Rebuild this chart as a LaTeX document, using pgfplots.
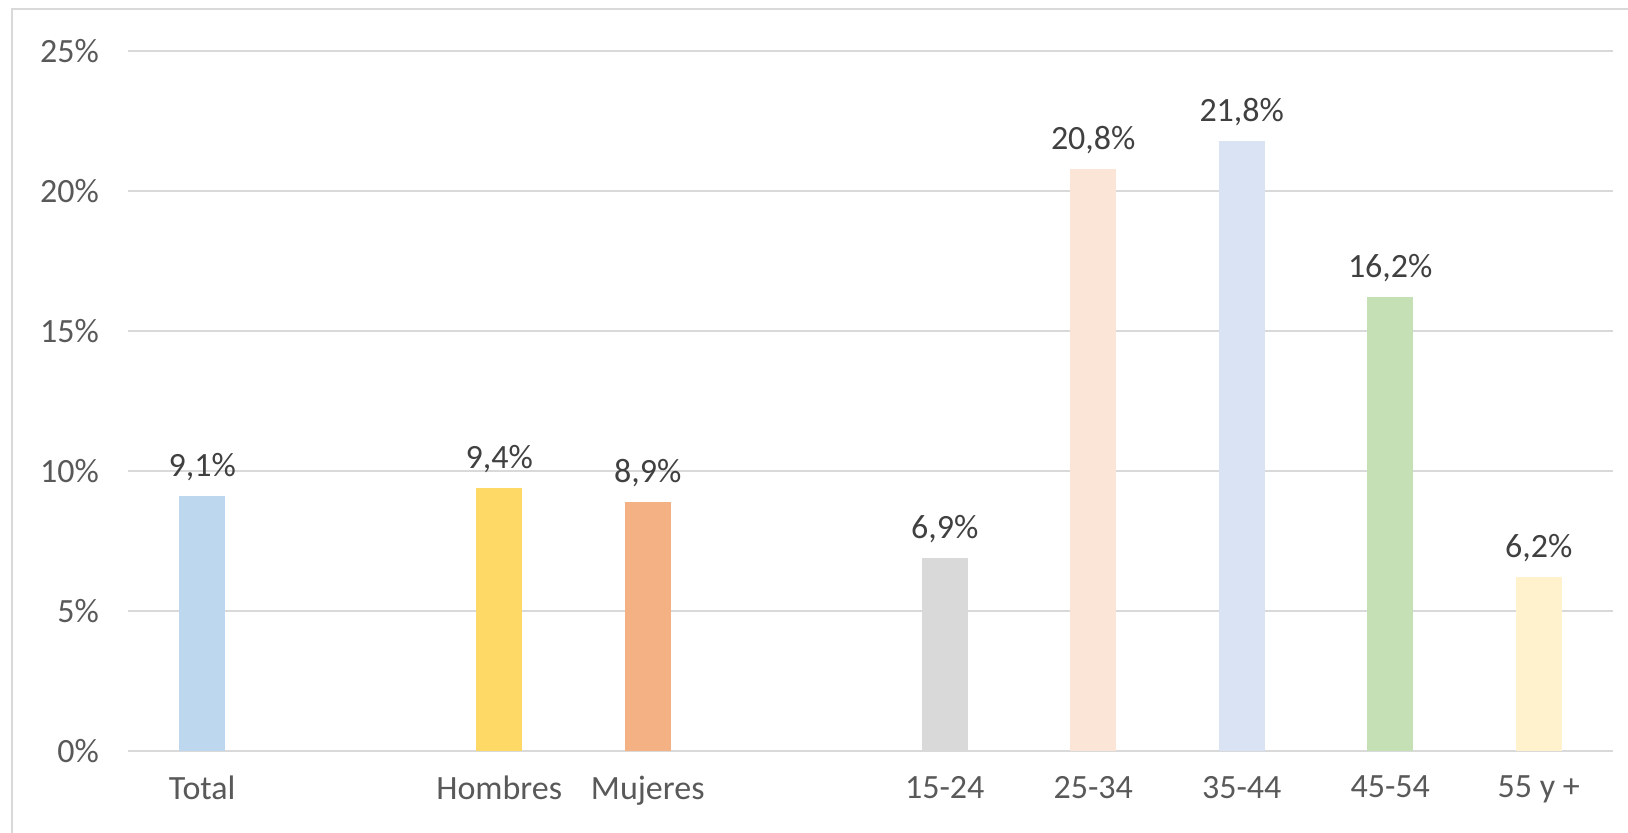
\documentclass[border=0pt]{standalone}
\usepackage{pgfplots}
\pgfplotsset{compat=1.18}
\usepackage{fontspec}
\setmainfont{Carlito}
\definecolor{cTotal}{HTML}{BDD7EE}
\definecolor{cHom}{HTML}{FFD966}
\definecolor{cMuj}{HTML}{F4B183}
\definecolor{cA}{HTML}{D9D9D9}
\definecolor{cB}{HTML}{FBE5D6}
\definecolor{cC}{HTML}{DAE3F3}
\definecolor{cD}{HTML}{C5E0B4}
\definecolor{cE}{HTML}{FFF2CC}
\definecolor{gridgray}{HTML}{D9D9D9}
\definecolor{ticktext}{HTML}{595959}
\definecolor{labeltext}{HTML}{404040}
\begin{document}
\begin{tikzpicture}
\path[use as bounding box] (-64pt,-41pt) rectangle (750pt,375.5pt);
\draw[gridgray, line width=1.3pt] (-58pt,-45pt) -- (-58pt,371pt) -- (760pt,371pt);
\begin{axis}[
  at={(0,0)}, anchor=south west,
  scale only axis, width=742.5pt, height=350pt,
  xmin=-0.5, xmax=9.5, ymin=0, ymax=25,
  ybar, bar width=23pt, bar shift=0pt,
  ytick={0,5,10,15,20,25},
  yticklabels={0\%,5\%,10\%,15\%,20\%,25\%},
  xtick={0,2,3,5,6,7,8,9},
  xticklabels={Total,Hombres,Mujeres,15-24,25-34,35-44,45-54,55 y +},
  ymajorgrids, grid style={color=gridgray, line width=1.1pt},
  axis line style={draw=none}, major tick length=0pt,
  tick label style={font=\fontsize{17}{20}\selectfont, text=ticktext},
  yticklabel style={xshift=-11pt},
  xticklabel style={yshift=-9pt},
  /pgf/number format/assume math mode=true,
  nodes near coords={\pgfmathprintnumber[fixed,fixed zerofill,precision=1,use comma,assume math mode=true]{\pgfplotspointmeta}\%},
  every node near coord/.append style={font=\fontsize{17}{20}\selectfont, text=labeltext, yshift=4pt},
  clip=false,
]
\addplot[fill=cTotal, draw=none] coordinates {(0,9.1)};
\addplot[fill=cHom, draw=none] coordinates {(2,9.4)};
\addplot[fill=cMuj, draw=none] coordinates {(3,8.9)};
\addplot[fill=cA, draw=none] coordinates {(5,6.9)};
\addplot[fill=cB, draw=none] coordinates {(6,20.8)};
\addplot[fill=cC, draw=none] coordinates {(7,21.8)};
\addplot[fill=cD, draw=none] coordinates {(8,16.2)};
\addplot[fill=cE, draw=none] coordinates {(9,6.2)};
\end{axis}
\end{tikzpicture}
\end{document}
